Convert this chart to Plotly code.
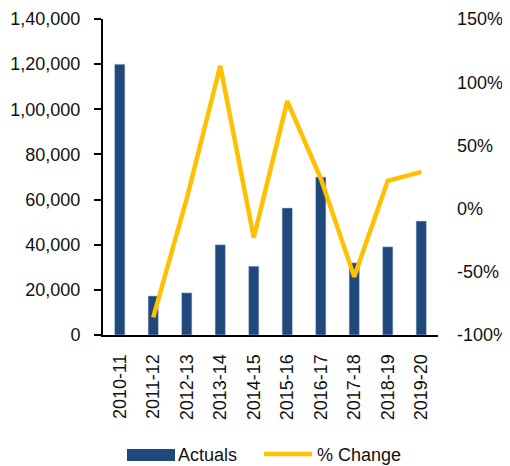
import plotly.graph_objects as go

categories = ["2010-11", "2011-12", "2012-13", "2013-14", "2014-15",
              "2015-16", "2016-17", "2017-18", "2018-19", "2019-20"]
actuals = [120000, 17300, 18700, 40000, 30500, 56300, 70000, 32000, 39100, 50500]
pct_change = [None, -86, 8, 113, -23, 85, 24, -54, 22, 29]

left_tickvals = [0, 20000, 40000, 60000, 80000, 100000, 120000, 140000]
left_ticktext = ["0", "20,000", "40,000", "60,000", "80,000", "1,00,000", "1,20,000", "1,40,000"]
right_tickvals = [-100, -50, 0, 50, 100, 150]
right_ticktext = ["-100%", "-50%", "0%", "50%", "100%", "150%"]

BAR = "#1F497D"
LINE = "#FFC000"
FONT = "Liberation Sans, Arial, sans-serif"

# page body has an 8px margin; figure is offset accordingly
OFF = 8
PL, PT, PW, PH = 103 - OFF, 19 - OFF, 335, 316

fig = go.Figure()
fig.add_trace(go.Bar(x=categories, y=actuals, name="Actuals",
                     marker=dict(color=BAR, line=dict(width=0.6, color="#c9d3e0")),
                     width=0.31, showlegend=False))
fig.add_trace(go.Scatter(x=categories, y=pct_change, name="% Change", yaxis="y2",
                         mode="lines", line=dict(color=LINE, width=4.5),
                         connectgaps=False, showlegend=False))

fig.update_layout(
    width=510 - OFF, height=466 - OFF,
    margin=dict(l=PL, r=510 - OFF - PL - PW, t=PT, b=466 - OFF - PT - PH),
    paper_bgcolor="white", plot_bgcolor="white",
    font=dict(family=FONT, size=18, color="#111"),
    xaxis=dict(type="category", showline=True, linecolor="black", linewidth=2, ticks="",
               tickangle=-90, ticklabelstandoff=10, showgrid=False,
               range=[-0.5, 9.5], automargin=False),
    yaxis=dict(range=[0, 140000], tickvals=left_tickvals, ticktext=left_ticktext,
               showline=True, linecolor="black", linewidth=2, ticks="outside",
               ticklen=7, tickwidth=2, tickcolor="black", showgrid=False,
               zeroline=False, ticklabelstandoff=10, automargin=False),
    yaxis2=dict(range=[-100, 150], tickvals=right_tickvals, ticktext=right_ticktext,
                overlaying="y", side="right", showline=False, showgrid=False,
                zeroline=False, ticks="", ticklabelstandoff=18, automargin=False),
)

def px_x(x):
    return (x - 103) / PW

def px_y(y):
    return (335 - y) / PH

# manual legend
fig.add_shape(type="rect", xref="paper", yref="paper",
              x0=px_x(127), x1=px_x(175), y0=px_y(461), y1=px_y(449),
              fillcolor=BAR, line=dict(width=0))
fig.add_annotation(xref="paper", yref="paper", x=px_x(176), y=px_y(455),
                   text="Actuals", showarrow=False, xanchor="left", yanchor="middle",
                   font=dict(size=18, family=FONT, color="#111"))
fig.add_shape(type="line", xref="paper", yref="paper",
              x0=px_x(264), x1=px_x(312), y0=px_y(454), y1=px_y(454),
              line=dict(color=LINE, width=4.5))
fig.add_annotation(xref="paper", yref="paper", x=px_x(315), y=px_y(455),
                   text="% Change", showarrow=False, xanchor="left", yanchor="middle",
                   font=dict(size=18, family=FONT, color="#111"))

fig.write_html("out.html")
